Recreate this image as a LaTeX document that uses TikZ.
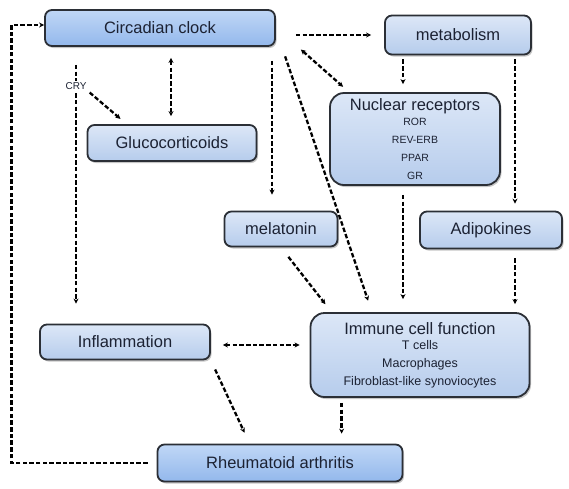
\documentclass[tikz,border=0pt]{standalone}
\usepackage{fontspec}
\setmainfont{Liberation Sans}
\usetikzlibrary{arrows.meta,shadows}

\definecolor{boxdark}{HTML}{93B8EC}
\definecolor{boxdarktop}{HTML}{C0D7F6}
\definecolor{boxlight}{HTML}{B6CCEC}
\definecolor{boxlighttop}{HTML}{DCE7F7}
\definecolor{boxline}{HTML}{2B2F36}
\definecolor{labeltext}{HTML}{1C2233}

\newcommand{\smalltext}{\fontsize{10.5}{14.5}\selectfont}
\newcommand{\midtext}{\fontsize{12.5}{15.5}\selectfont}

\begin{document}
\begin{tikzpicture}[x=1pt, y=-1pt,
    box style/.style={draw=boxline, line width=1.8pt, rounded corners=7pt,
        top color=boxlighttop, bottom color=boxlight, text=labeltext,
        drop shadow={shadow xshift=1.5pt, shadow yshift=-2pt, opacity=0.45},
        font=\fontsize{16.5}{18}\selectfont, inner sep=0pt, align=center},
    main style/.style={box style, top color=boxdarktop, bottom color=boxdark},
    list style/.style={box style, rounded corners=14pt},
    link style/.style={draw=black, line width=2.3pt, dash pattern=on 4.5pt off 2.2pt,
        -{Stealth[length=5pt, width=5pt]}},
    both style/.style={link style, {Stealth[length=5pt, width=5pt]}-{Stealth[length=5pt, width=5pt]}},
    ]
    \useasboundingbox (0,0) rectangle (569,488);
    %\draw (0,0) rectangle (569,488);

    \pgfmathsetmacro{\gap}{9}

    \node[main style, minimum width=230pt, minimum height=36pt] (clock) at (160,28) {Circadian clock};
    \node[box style, minimum width=146pt, minimum height=39pt] (metab) at (458,35) {metabolism};
    \node[box style, minimum width=169pt, minimum height=36pt] (gluco) at (172,143) {Glucocorticoids};
    \node[list style, minimum width=170pt, minimum height=92pt] (nuclear) at (415,139)
        {Nuclear receptors\\[-3pt]\smalltext ROR\\\smalltext REV-ERB\\\smalltext PPAR\\\smalltext GR};
    \node[box style, minimum width=113pt, minimum height=35pt] (melatonin) at (281,229) {melatonin};
    \node[box style, minimum width=142pt, minimum height=37pt] (adipo) at (491,230) {Adipokines};
    \node[box style, minimum width=170pt, minimum height=35pt] (inflam) at (125,342) {Inflammation};
    \node[list style, minimum width=219pt, minimum height=84pt] (immune) at (420,355)
        {Immune cell function\\[-3pt]\midtext T cells\\\midtext Macrophages\\\midtext Fibroblast-like synoviocytes};
    \node[main style, minimum width=245pt, minimum height=37pt] (ra) at (280,463) {Rheumatoid arthritis};

    \node[fill=white, inner sep=1.5pt, text=labeltext, font=\fontsize{10}{11}\selectfont] (cry) at (76,86) {CRY};

    \coordinate (nx) at ([xshift=-12pt]nuclear.north);
    \coordinate (ax) at ([xshift=24pt]adipo.north);
    \coordinate (mx) at ([xshift=-9pt]melatonin.north);
    \coordinate (gx) at ([xshift=-1pt]gluco.north);
    \coordinate (rx) at ([xshift=32pt]immune.south west);

    % clock links
    \draw[both style, shorten <=11pt, shorten >=8pt] (gx |- clock.south) -- (gx);
    \draw[link style, line cap=butt, -] ([yshift=-18pt]cry |- clock.south) -- (cry.north);
    \draw[link style, shorten <=2pt, shorten >=20pt] (cry.south) -- (cry |- inflam.north);
    \draw[link style, shorten <=2pt, shorten >=8pt] (cry.south east) -- ([xshift=40pt]gluco.north west);
    \draw[link style, shorten <=14pt, shorten >=16pt] (mx |- clock.south) -- (mx);
    \draw[link style, shorten <=10pt, shorten >=12pt] ([xshift=6pt]clock.south east) -- ([xshift=-48pt]immune.north);
    \draw[link style, shorten <=20pt, shorten >=13pt] (clock.east |- metab.west) -- (metab.west);
    \draw[both style, shorten <=4pt, shorten >=8pt] ([xshift=22pt]clock.south east) -- ([xshift=20pt]nuclear.north west);
    \draw[link style, shorten <=\gap pt] (ra.west) -- ++(-145,0) |- ([yshift=3pt]clock.west);

    % metabolism links
    \draw[link style, shorten <=4pt, shorten >=8pt] (nx |- metab.south) -- (nx);
    \draw[link style, shorten <=4pt, shorten >=7pt] (ax |- metab.south) -- (ax);

    % into immune cells
    \draw[link style, shorten <=9pt, shorten >=13pt] (nx |- nuclear.south) -- (nx |- immune.north);
    \draw[link style, shorten <=12pt, shorten >=10pt] (melatonin.south) -- ([xshift=22pt]immune.north west);
    \draw[link style, shorten <=9pt, shorten >=8pt] (ax |- adipo.south) -- (ax |- immune.north);
    \draw[both style, shorten <=12pt, shorten >=10pt] ([yshift=-3pt]inflam.east) -- ([yshift=-3pt]inflam.east -| immune.west);

    % into arthritis
    \draw[link style, shorten <=10pt, shorten >=12pt] (inflam.south east) -- ([xshift=93pt]ra.north west);
    \draw[link style, shorten <=5pt, shorten >=10pt] (rx) -- (rx |- ra.north);

\end{tikzpicture}
\end{document}
